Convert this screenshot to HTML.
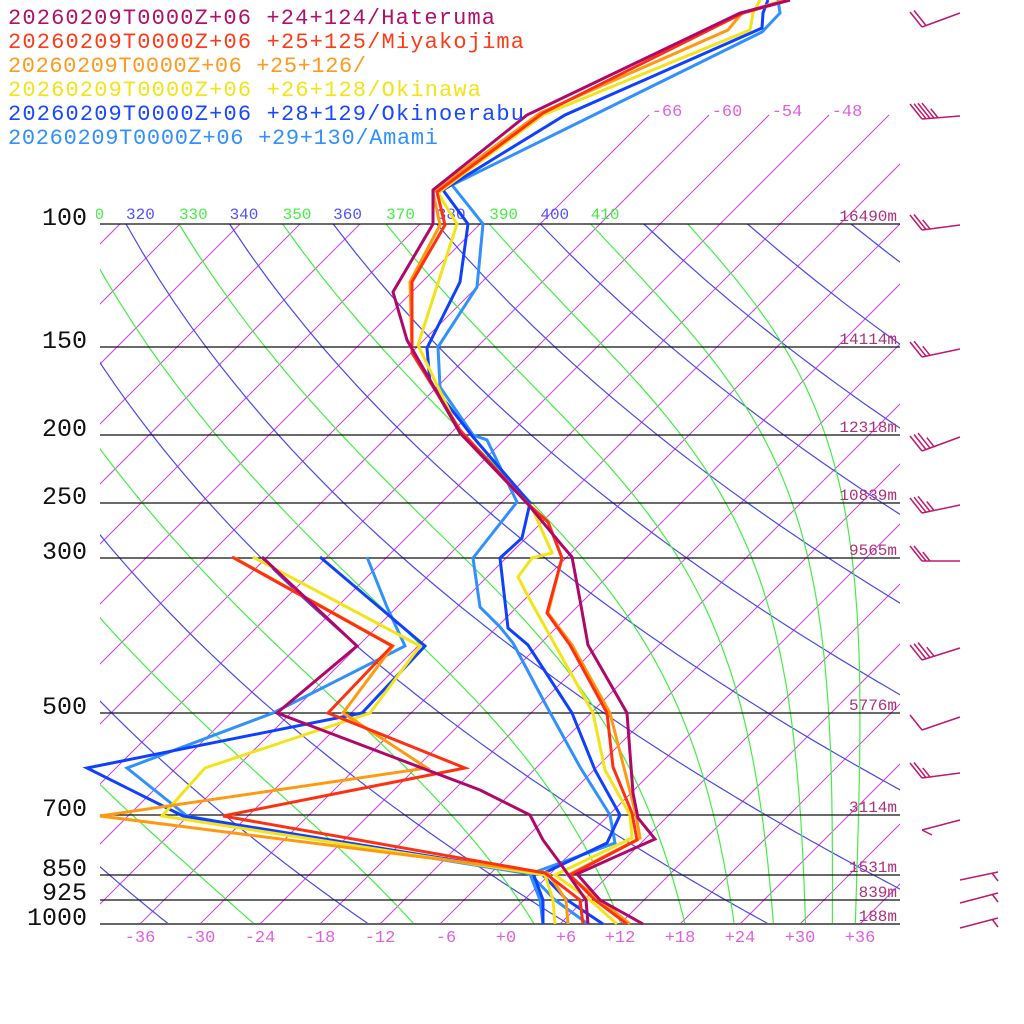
<!DOCTYPE html>
<html><head><meta charset="utf-8"><style>
html,body{margin:0;padding:0;background:#fff;}
svg{display:block;}
text{font-family:"Liberation Mono","DejaVu Sans Mono",monospace;}
</style></head><body>
<svg id="s" width="1024" height="1024" viewBox="0 0 1024 1024" xmlns="http://www.w3.org/2000/svg">
<defs>
<clipPath id="c1"><rect x="100" y="0" width="800" height="924"/></clipPath>
<clipPath id="c2"><rect x="96" y="0" width="900" height="924"/></clipPath>
</defs>
<g id="grid" clip-path="url(#c1)"></g>
<g id="lab" clip-path="url(#c2)"></g>
<g id="hl"></g>
<g id="prof" fill="none" stroke-width="3" stroke-linejoin="miter"></g>
<g id="barbs" stroke="#c0186a" stroke-width="1.5" fill="none"></g>
<g font-size="25" fill="#111" text-anchor="end">
<text x="87" y="225">100</text><text x="87" y="348">150</text><text x="87" y="436">200</text>
<text x="87" y="504">250</text><text x="87" y="559">300</text><text x="87" y="714">500</text>
<text x="87" y="816">700</text><text x="87" y="876">850</text><text x="87" y="900">925</text>
<text x="87" y="925">1000</text>
</g>
<g font-size="16" fill="#b0307a" text-anchor="end">
<text x="897" y="221">16490m</text><text x="897" y="344">14114m</text><text x="897" y="432">12318m</text>
<text x="897" y="500">10839m</text><text x="897" y="555">9565m</text><text x="897" y="710">5776m</text>
<text x="897" y="812">3114m</text><text x="897" y="872">1531m</text><text x="897" y="897">839m</text>
<text x="897" y="921">188m</text>
</g>
<g font-size="17" fill="#e060e0" text-anchor="middle">
<text x="140" y="942">-36</text><text x="200" y="942">-30</text><text x="260" y="942">-24</text>
<text x="320" y="942">-18</text><text x="380" y="942">-12</text><text x="446" y="942">-6</text>
<text x="506" y="942">+0</text><text x="566" y="942">+6</text><text x="620" y="942">+12</text>
<text x="680" y="942">+18</text><text x="740" y="942">+24</text><text x="800" y="942">+30</text>
<text x="860" y="942">+36</text>
<text x="667" y="116">-66</text><text x="727" y="116">-60</text><text x="787" y="116">-54</text><text x="847" y="116">-48</text>
</g>
<g font-size="22">
<text x="8" y="24" fill="#b0106a" textLength="487">20260209T0000Z+06 +24+124/Hateruma</text>
<text x="8" y="48" fill="#ff3a18" textLength="516">20260209T0000Z+06 +25+125/Miyakojima</text>
<text x="8" y="72" fill="#ff9a20" textLength="358">20260209T0000Z+06 +25+126/</text>
<text x="8" y="96" fill="#f2e418" textLength="473">20260209T0000Z+06 +26+128/Okinawa</text>
<text x="8" y="120" fill="#1848ff" textLength="516">20260209T0000Z+06 +28+129/Okinoerabu</text>
<text x="8" y="144" fill="#3090ff" textLength="430">20260209T0000Z+06 +29+130/Amami</text>
</g>
</svg>
<script>
(function(){
var NS="http://www.w3.org/2000/svg";
function el(p,n,a){var e=document.createElementNS(NS,n);for(var k in a)e.setAttribute(k,a[k]);p.appendChild(e);return e;}
function yp(p){return 924-304*Math.log(1000/p);}
function xt(T,y){return 500+10*T+(924-y);}
var grid=document.getElementById('grid'),lab=document.getElementById('lab'),hl=document.getElementById('hl');
for(var T=-162;T<=60;T+=6){
  var top=(T>=-66)?115:224;
  el(grid,'line',{x1:xt(T,924),y1:924,x2:xt(T,top),y2:top,stroke:'#d040e0','stroke-width':1});
}
for(var th=200;th<=520;th+=20){
  var d='';
  for(var p=100;p<=1000;p+=10){var Tc=th*Math.pow(p/1000,0.2857)-273.15;var y=yp(p);d+=(p==100?'M':'L')+xt(Tc,y).toFixed(1)+' '+y.toFixed(1);}
  el(grid,'path',{d:d,stroke:'#4848f0','stroke-width':1.2,fill:'none'});
  if(th>=320&&th<=400){var x0=xt(th*Math.pow(0.1,0.2857)-273.15,224);el(lab,'text',{x:x0,y:219,fill:'#5050ff','font-size':16}).textContent=th;}
}
function es(T){return 6.112*Math.exp(17.67*T/(T+243.5));}
function thetae(T,p){var e=es(T);if(e>p*0.5)e=p*0.5;var r=622*e/(p-e);var TK=T+273.15;
 return TK*Math.pow(1000/p,0.2854*(1-0.00028*r))*Math.exp((3.376/TK-0.00254)*r*(1+0.00081*r));}
function solve(te,p){var a=-150,b=60;for(var i=0;i<60;i++){var m=(a+b)/2;if(thetae(m,p)>te)b=m;else a=m;}return (a+b)/2;}
for(var te=230;te<=430;te+=20){
  var d='';
  for(var p=100;p<=1000;p+=10){var Tc=solve(te,p);var y=yp(p);d+=(p==100?'M':'L')+xt(Tc,y).toFixed(1)+' '+y.toFixed(1);}
  el(grid,'path',{d:d,stroke:'#44ee44','stroke-width':1.2,fill:'none'});
  if(te>=310&&te<=410){var x0=xt(solve(te,100),224);el(lab,'text',{x:x0,y:219,fill:'#44ee44','font-size':16}).textContent=te;}
}
[224,347,435,503,558,713,815,875,900].forEach(function(y){el(hl,'line',{x1:100,x2:900,y1:y,y2:y,stroke:'#111','stroke-width':1.3});});
el(hl,'line',{x1:100,x2:900,y1:924,y2:924,stroke:'#666','stroke-width':2});
var P=[
 ['#3090ff',
  [[588,924],[555,900],[530,874],[615,843],[610,815],[580,767],[547,707],[513,643],[500,627],[480,607],[473,558],[517,502],[487,440],[473,435],[440,387],[438,347],[477,287],[483,224],[452,185],[762,32],[780,13],[778,0]],
  [[543,924],[540,900],[530,874],[320,840],[187,816],[127,768],[273,713],[405,646],[387,607],[367,557]]],
 ['#1040ff',
  [[603,924],[567,900],[542,874],[607,843],[620,815],[595,770],[572,713],[528,645],[508,628],[500,558],[522,538],[530,503],[473,437],[430,382],[427,348],[460,282],[468,224],[443,190],[565,115],[762,28],[763,13],[768,0]],
  [[543,924],[543,900],[533,873],[183,816],[87,768],[362,713],[425,646],[320,557]]],
 ['#f2e418',
  [[617,924],[590,900],[555,875],[632,838],[630,815],[605,770],[593,713],[530,600],[518,577],[532,558],[552,553],[532,508],[460,433],[418,345],[457,224],[438,193],[543,115],[750,30],[753,13],[760,0]],
  [[555,924],[553,900],[545,875],[162,816],[205,768],[370,713],[420,646],[253,557]]],
 ['#ff9a10',
  [[630,924],[600,900],[568,875],[640,838],[636,815],[610,713],[572,645],[548,613],[562,558],[548,522],[527,503],[460,433],[412,350],[410,282],[440,225],[433,192],[540,113],[728,30],[742,13],[785,0]],
  [[568,924],[566,900],[548,873],[100,816],[427,768],[343,713],[393,646],[233,557]]],
 ['#ff3010',
  [[627,924],[595,900],[570,875],[637,840],[632,813],[613,767],[607,713],[570,645],[547,613],[562,558],[548,522],[527,503],[460,430],[412,353],[412,282],[445,225],[437,192],[543,113],[743,13],[790,0]],
  [[583,924],[580,900],[545,873],[223,816],[465,768],[328,713],[392,646],[232,557]]],
 ['#b0086a',
  [[643,924],[600,900],[577,874],[655,839],[638,818],[633,793],[627,713],[588,645],[580,600],[572,557],[560,543],[527,503],[460,433],[430,380],[407,340],[393,292],[433,224],[433,190],[527,115],[740,13],[790,0]],
  [[588,924],[586,900],[560,863],[543,840],[530,815],[480,790],[277,713],[357,646],[262,557]]]
];
var g=document.getElementById('prof');
P.forEach(function(s){[s[1],s[2]].forEach(function(pts){
  el(g,'polyline',{points:pts.map(function(q){return q.join(',');}).join(' '),stroke:s[0]});});});
var B=[[27,-14,2],[119,-3,5],[230,-5,3],[357,-8,3],[451,-14,4],[513,-8,4],[561,0,3],[660,-12,4],[730,-13,1],[778,-5,3],[830,-10,0]];
var bg=document.getElementById('barbs');
B.forEach(function(b){
  var y=b[0],dy=b[1];
  el(bg,'line',{x1:922,y1:y,x2:960,y2:y+dy});
  for(var i=0;i<b[2];i++){var fx=922+i*4,fy=y+dy*(i*4/38);var L=(i==b[2]-1&&b[2]>2)?0.6:1;
    el(bg,'line',{x1:fx,y1:fy,x2:fx-12*L,y2:fy-15*L});}
  if(b[2]==0){el(bg,'line',{x1:922,y1:y,x2:932,y2:y+5});}
});
[[880,-8],[903,-10],[928,-10]].forEach(function(b){
  var y=b[0];el(bg,'line',{x1:960,y1:y,x2:998,y2:y+b[1]});
  el(bg,'line',{x1:992,y1:y+b[1]+1,x2:998,y2:y+b[1]+9});
});
})();
</script>
</body></html>
